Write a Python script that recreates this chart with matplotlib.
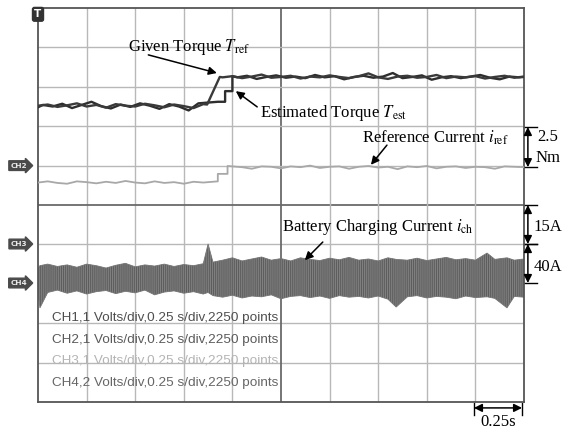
import numpy as np
import matplotlib
matplotlib.use('Agg')
import matplotlib.pyplot as plt

plt.rcParams['font.family'] = ['Liberation Serif', 'DejaVu Serif']
plt.rcParams['mathtext.fontset'] = 'stix'
plt.rcParams['hatch.linewidth'] = 0.7

# scope screen is 10 x 10 divisions, values below are in divisions
# CH1 given torque (Tref)
tref_t = [0.0, 0.2, 0.4, 0.6, 0.8, 1.0, 1.2, 1.4, 1.6, 1.8, 2.0, 2.2, 2.4, 2.6, 2.8, 3.0, 3.2, 3.4,
          3.48, 3.74, 3.8, 4.0, 4.2, 4.4, 4.6, 4.8, 5.0, 5.2, 5.4, 5.6, 5.8, 6.0, 6.2, 6.4, 6.6,
          6.8, 7.0, 7.2, 7.4, 7.6, 7.8, 8.0, 8.2, 8.4, 8.6, 8.8, 9.0, 9.2, 9.4, 9.6, 9.8, 10.0]
tref_v = [7.52, 7.55, 7.49, 7.53, 7.58, 7.50, 7.54, 7.47, 7.56, 7.52, 7.50, 7.57, 7.53, 7.48, 7.55, 7.51, 7.46, 7.56,
          7.55, 8.25, 8.24, 8.27, 8.22, 8.26, 8.31, 8.23, 8.25, 8.28, 8.21, 8.26, 8.24, 8.29, 8.25, 8.22, 8.27,
          8.34, 8.24, 8.20, 8.26, 8.28, 8.23, 8.25, 8.30, 8.22, 8.26, 8.24, 8.27, 8.21, 8.25, 8.28, 8.23, 8.26]

# CH1 estimated torque (Test)
test_t = [0.0, 0.1, 0.3, 0.5, 0.7, 0.9, 1.1, 1.3, 1.5, 1.7, 1.9, 2.1, 2.3, 2.5, 2.7, 2.9, 3.1, 3.3, 3.5, 3.7,
          3.85, 3.85, 4.0, 4.0, 4.1, 4.3, 4.5, 4.7, 4.9, 5.1, 5.3, 5.5, 5.7, 5.9, 6.1, 6.3, 6.5, 6.7,
          6.9, 7.1, 7.3, 7.5, 7.7, 7.9, 8.1, 8.3, 8.5, 8.7, 8.9, 9.1, 9.3, 9.5, 9.7, 9.9, 10.0]
test_v = [7.48, 7.54, 7.50, 7.57, 7.46, 7.54, 7.62, 7.51, 7.45, 7.55, 7.49, 7.58, 7.52, 7.44, 7.56, 7.50, 7.40, 7.58, 7.60, 7.62,
          7.62, 7.89, 7.89, 8.27, 8.24, 8.28, 8.20, 8.25, 8.29, 8.23, 8.26, 8.22, 8.30, 8.24, 8.27, 8.19, 8.25, 8.28,
          8.23, 8.26, 8.35, 8.22, 8.25, 8.29, 8.18, 8.24, 8.27, 8.22, 8.26, 8.30, 8.23, 8.19, 8.26, 8.24, 8.25]

# CH2 reference current
iref_t = [0.0, 0.2, 0.4, 0.6, 0.8, 1.0, 1.2, 1.4, 1.6, 1.8, 2.0, 2.2, 2.4, 2.6, 2.8, 3.0, 3.2, 3.4, 3.7,
          3.7, 3.9, 3.9, 4.0, 4.2, 4.4, 4.6, 4.8, 5.0, 5.2, 5.4, 5.6, 5.8, 6.0, 6.2, 6.4, 6.6, 6.8,
          7.0, 7.2, 7.4, 7.6, 7.8, 8.0, 8.2, 8.4, 8.6, 8.8, 9.0, 9.2, 9.4, 9.6, 9.8, 10.0]
iref_v = [5.57, 5.60, 5.56, 5.54, 5.60, 5.58, 5.55, 5.59, 5.56, 5.61, 5.57, 5.55, 5.60, 5.56, 5.58, 5.54, 5.59, 5.57, 5.60,
          5.79, 5.79, 5.99, 5.98, 5.96, 5.92, 5.98, 5.97, 5.93, 5.98, 5.96, 6.00, 5.94, 5.97, 5.98, 5.92, 5.97, 5.99,
          5.95, 5.97, 5.91, 5.98, 5.96, 5.99, 5.93, 5.97, 5.98, 5.94, 5.97, 5.96, 5.92, 5.98, 5.97, 5.96]

# CH4 battery charging current, upper / lower envelope of the ripple band
ich_t = [0.0, 0.04, 0.2, 0.4, 0.6, 0.8, 1.0, 1.2, 1.4, 1.6, 1.8, 2.0, 2.2, 2.4, 2.6, 2.8, 3.0, 3.2, 3.4,
         3.5, 3.6, 3.8, 4.0, 4.2, 4.4, 4.6, 4.8, 5.0, 5.2, 5.4, 5.6, 5.8, 6.0, 6.2, 6.4, 6.6, 6.8,
         7.0, 7.2, 7.37, 7.6, 7.8, 8.0, 8.2, 8.4, 8.6, 8.8, 9.0, 9.24, 9.4, 9.65, 9.8, 10.0]
ich_hi = [3.40, 3.46, 3.50, 3.44, 3.48, 3.42, 3.50, 3.46, 3.40, 3.47, 3.52, 3.43, 3.48, 3.45, 3.50, 3.44, 3.49, 3.46, 3.51,
          4.01, 3.55, 3.60, 3.66, 3.58, 3.63, 3.68, 3.60, 3.64, 3.58, 3.66, 3.62, 3.59, 3.65, 3.61, 3.67, 3.60, 3.63,
          3.58, 3.66, 3.62, 3.60, 3.65, 3.59, 3.63, 3.67, 3.61, 3.64, 3.60, 3.78, 3.62, 3.66, 3.60, 3.63]
ich_lo = [2.80, 2.39, 2.78, 2.84, 2.76, 2.82, 2.74, 2.80, 2.83, 2.75, 2.81, 2.77, 2.84, 2.72, 2.79, 2.82, 2.76, 2.80, 2.74,
          2.78, 2.70, 2.66, 2.71, 2.64, 2.69, 2.67, 2.72, 2.62, 2.68, 2.70, 2.65, 2.69, 2.63, 2.70, 2.66, 2.68, 2.64,
          2.69, 2.61, 2.41, 2.67, 2.70, 2.64, 2.68, 2.66, 2.62, 2.69, 2.65, 2.67, 2.63, 2.39, 2.68, 2.66]

info_lines = ['CH1,1 Volts/div,0.25 s/div,2250 points',
              'CH2,1 Volts/div,0.25 s/div,2250 points',
              'CH3,1 Volts/div,0.25 s/div,2250 points',
              'CH4,2 Volts/div,0.25 s/div,2250 points']
info_colors = ['#4e4e4e', '#5a5a5a', '#b4b4b4', '#666666']

fig = plt.figure(figsize=(5.73, 4.33), dpi=100)
ax = fig.add_axes([38 / 573, 31 / 433, 486 / 573, 394 / 433])
ax.set_xlim(0, 10)
ax.set_ylim(0, 10)
ax.set_xticks([])
ax.set_yticks([])
for s in ax.spines.values():
    s.set_color('#555555')
    s.set_linewidth(1.3)

# grid
for k in range(1, 10):
    c, w = ('#6a6a6a', 1.3) if k == 5 else ('#b8b8b8', 1.0)
    ax.axvline(k, color=c, lw=w, zorder=1)
    ax.axhline(k, color=c, lw=w, zorder=1)

# traces
ax.fill_between(ich_t, ich_lo, ich_hi, facecolor='#808080', edgecolor='#5c5c5c', hatch='||||||||',
                lw=0, zorder=2)
ax.plot(ich_t, ich_hi, color='#767676', lw=0.6, zorder=2)
ax.plot(ich_t, ich_lo, color='#767676', lw=0.6, zorder=2)
ax.plot(iref_t, iref_v, color='#a8a8a8', lw=1.3, zorder=3)
ax.plot(test_t, test_v, color='#2e2e2e', lw=1.7, zorder=4)
ax.plot(tref_t, tref_v, color='#3a3a3a', lw=1.7, zorder=4)

# scope info text
for i, (txt, col) in enumerate(zip(info_lines, info_colors)):
    ax.text(0.29, 2.13 - i * 0.55, txt, color=col, fontsize=9.7, va='center', ha='left',
            family=['Liberation Sans', 'DejaVu Sans'], zorder=5)

# channel markers on the left
for lab, y in [('CH2', 6.0), ('CH3', 4.01), ('CH4', 3.02)]:
    ax.text(-0.22, y, lab, color='#e8e8e8', fontsize=5.3, weight='bold', ha='right', va='center',
            family='DejaVu Sans', clip_on=False,
            bbox=dict(boxstyle='rarrow,pad=0.25', fc='#4a4a4a', ec='#4a4a4a'))
ax.text(0, 9.84, 'T', color='white', fontsize=7.5, weight='bold', ha='center', va='center',
        family='DejaVu Sans', clip_on=False, zorder=6,
        bbox=dict(boxstyle='round,pad=0.18', fc='#333333', ec='#333333'))

# annotations
arr = dict(arrowstyle='-|>', color='black', lw=1.1, mutation_scale=12, shrinkA=0, shrinkB=0)
fs = 12
ax.text(1.85, 8.91, r'Given Torque $T_{\mathrm{ref}}$', fontsize=fs, va='baseline')
ax.annotate('', xy=(3.68, 8.35), xytext=(2.27, 8.81), arrowprops=arr)
ax.text(4.57, 7.34, r'Estimated Torque $T_{\mathrm{est}}$', fontsize=fs, va='center')
ax.annotate('', xy=(4.07, 7.89), xytext=(4.51, 7.49), arrowprops=arr)
ax.text(6.67, 6.70, r'Reference Current $i_{\mathrm{ref}}$', fontsize=fs, va='center')
ax.annotate('', xy=(6.85, 6.02), xytext=(7.18, 6.52), arrowprops=arr)
ax.text(5.02, 4.44, r'Battery Charging Current $i_{\mathrm{ch}}$', fontsize=fs, va='center')
ax.annotate('', xy=(5.49, 3.60), xytext=(5.86, 4.06), arrowprops=arr)

# scale bars at the right
darr = dict(arrowstyle='<|-|>', color='black', lw=1.1, mutation_scale=12, shrinkA=0, shrinkB=0)
for y0, y1 in [(5.96, 6.98), (4.01, 5.0), (3.02, 4.01)]:
    ax.annotate('', xy=(10.08, y1), xytext=(10.08, y0), arrowprops=darr, annotation_clip=False)
    for yy in (y0, y1):
        ax.plot([10.0, 10.27], [yy, yy], color='black', lw=1.0, clip_on=False)
ax.text(10.49, 6.73, '2.5', fontsize=fs, ha='center', va='center')
ax.text(10.49, 6.19, 'Nm', fontsize=fs, ha='center', va='center')
ax.text(10.49, 4.44, '15A', fontsize=fs, ha='center', va='center')
ax.text(10.49, 3.43, '40A', fontsize=fs, ha='center', va='center')

ax.annotate('', xy=(9.96, -0.15), xytext=(8.97, -0.15), arrowprops=darr, annotation_clip=False)
for xx in (8.97, 9.96):
    ax.plot([xx, xx], [-0.03, -0.33], color='black', lw=1.0, clip_on=False)
ax.text(9.47, -0.52, '0.25s', fontsize=fs, ha='center', va='center')

fig.savefig('out.png', dpi=100)
